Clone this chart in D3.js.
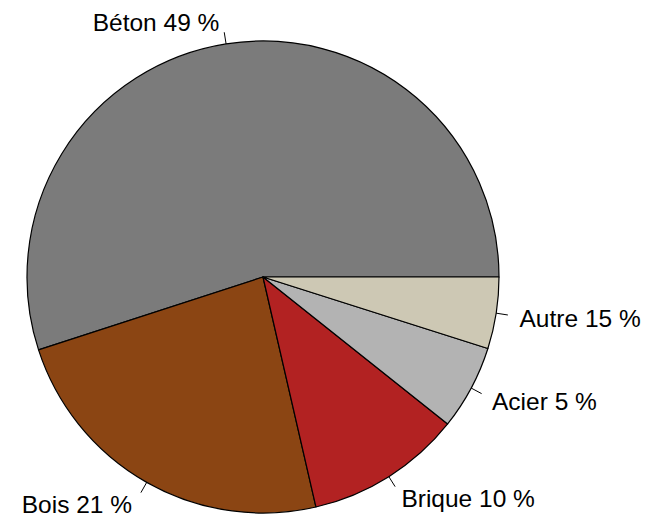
<!DOCTYPE html>
<html>
<head>
<meta charset="utf-8">
<script src="https://cdn.jsdelivr.net/npm/d3@7"></script>
<style>
  html, body { margin: 0; padding: 0; background: #fff; }
  svg { display: block; }
</style>
</head>
<body>
<svg id="chart" width="645" height="518"></svg>
<script>
// Data (slice shares as drawn; labels as printed)
const categories = ["Béton", "Bois", "Brique", "Acier", "Autre"];
const values = [55.0, 23.6, 10.7, 5.8, 4.9];
const labelPercents = ["49 %", "21 %", "10 %", "5 %", "15 %"];
const colors = ["#7b7b7b", "#8b4513", "#b22222", "#b3b3b3", "#cdc8b4"];

const svg = d3.select("#chart");
const cx = 263, cy = 277, r = 236;
const g = svg.append("g").attr("transform", `translate(${cx},${cy})`);

const data = categories.map((c, i) => ({ cat: c, value: values[i], label: c + " " + labelPercents[i], color: colors[i] }));

// R-style pie: start at 3 o'clock, go counter-clockwise
const pie = d3.pie().value(d => d.value).sort(null)
  .startAngle(Math.PI / 2).endAngle(Math.PI / 2 - 2 * Math.PI);
const arcs = pie(data);
const arc = d3.arc().innerRadius(0).outerRadius(r);

g.selectAll("path.slice").data(arcs).join("path")
  .attr("class", "slice")
  .attr("d", arc)
  .attr("fill", d => d.data.color)
  .attr("stroke", "#000")
  .attr("stroke-width", 1.2)
  .attr("stroke-linejoin", "round");

arcs.forEach(d => {
  const a = (d.startAngle + d.endAngle) / 2;
  const sx = Math.sin(a), sy = -Math.cos(a);
  g.append("line")
    .attr("x1", sx * r).attr("y1", sy * r)
    .attr("x2", sx * r * 1.05).attr("y2", sy * r * 1.05)
    .attr("stroke", "#000").attr("stroke-width", 1);
  g.append("text")
    .attr("x", sx * r * 1.1 + (sx < 0 ? -3 : 0)).attr("y", sy * r * 1.1)
    .attr("dy", "0.43em")
    .attr("text-anchor", sx < 0 ? "end" : "start")
    .attr("font-family", "'Liberation Sans', Arial, sans-serif")
    .attr("font-size", 24.5)
    .attr("fill", "#000")
    .text(d.data.label);
});
</script>
</body>
</html>
